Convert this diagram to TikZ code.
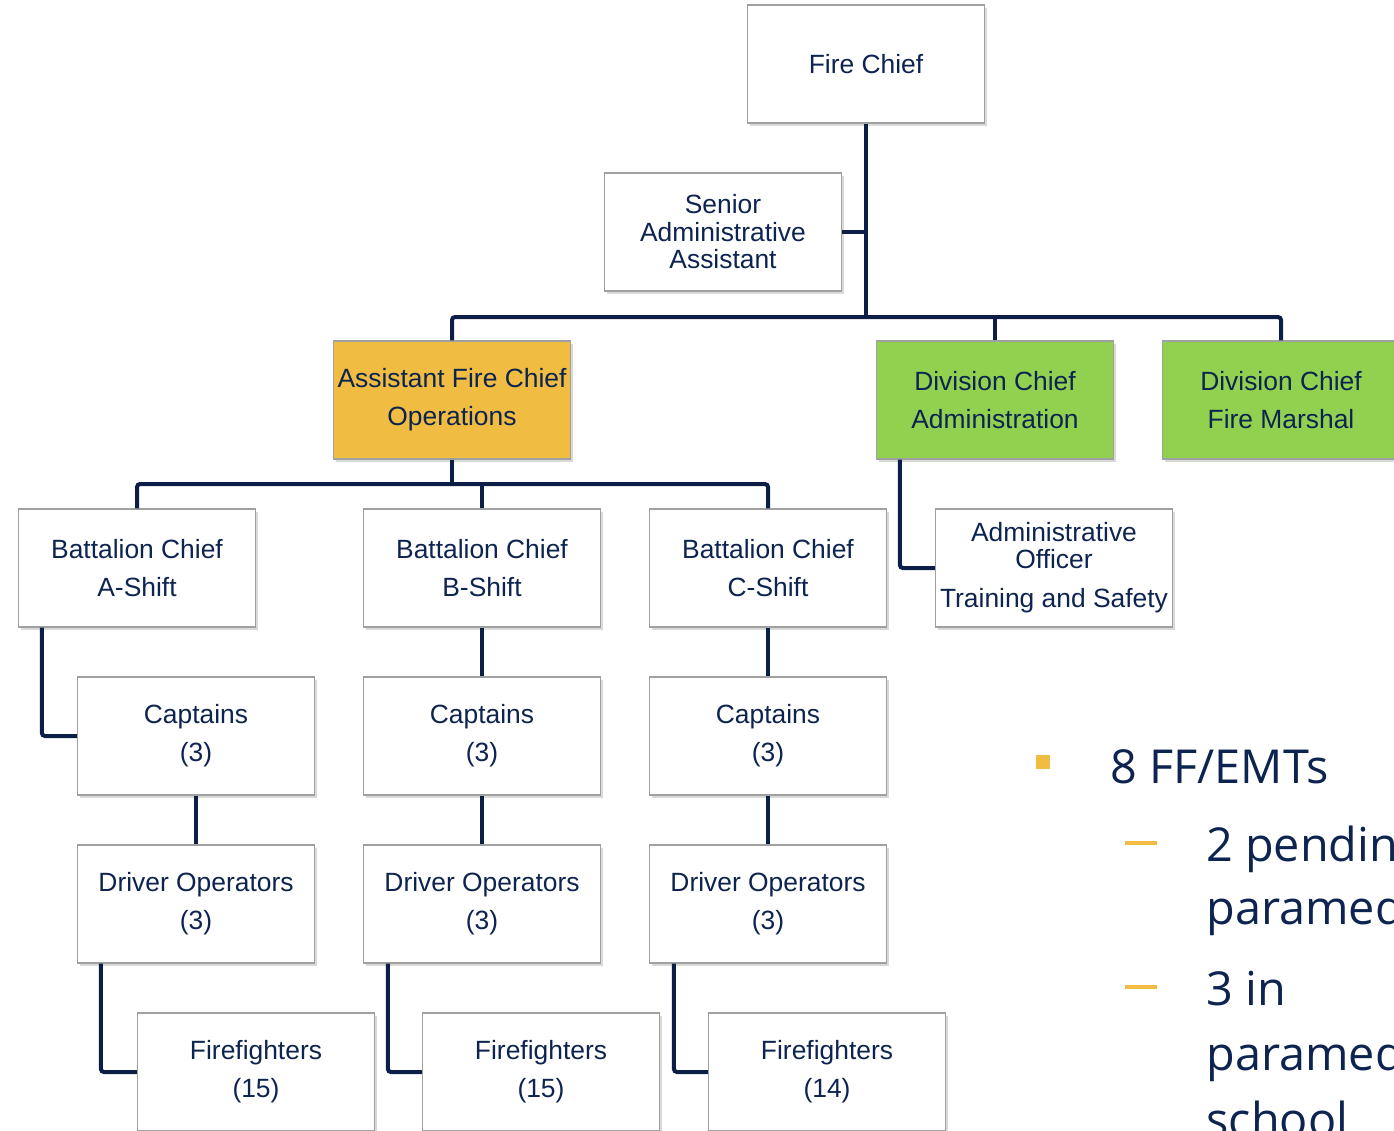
\documentclass[tikz,border=0pt]{standalone}
\usepackage{fontspec}
\setmainfont{Liberation Sans}
\newfontfamily\listfont{Open Sans}
\usetikzlibrary{shadows}
\definecolor{navy}{RGB}{13,35,80}
\definecolor{linenavy}{RGB}{12,30,69}
\definecolor{opsorange}{RGB}{240,188,66}
\definecolor{divgreen}{RGB}{146,208,80}
\definecolor{boxgray}{RGB}{160,160,160}

\begin{document}
\begin{tikzpicture}[x=0.5pt,y=-0.5pt,
    box/.style={draw=boxgray,line width=0.6pt,fill=white,minimum width=118.5pt,minimum height=59pt,
      inner sep=0pt,align=center,text=navy,font=\fontsize{13.2}{19}\selectfont,
      drop shadow={shadow xshift=1.2pt,shadow yshift=-1.5pt,opacity=0.3}},
    orgline/.style={draw=linenavy,line width=2pt,rounded corners=1.5pt},
    listtext/.style={anchor=base west,inner sep=0pt,text=navy,font=\listfont\fontsize{23.4}{31.5}\selectfont}]
    \useasboundingbox (0,0) rectangle (1394,1131);

    \node[box] (chief) at (866,64) {Fire Chief};
    \node[box,font=\fontsize{13.2}{13.75}\selectfont] (saa) at (723,232) {Senior\\Administrative\\Assistant};

    \node[box,fill=opsorange] (afc) at (452,400) {Assistant Fire Chief\\Operations};
    \node[box,fill=divgreen] (dca) at (995,400) {Division Chief\\Administration};
    \node[box,fill=divgreen] (fm) at (1281,400) {Division Chief\\Fire Marshal};

    \node[box] (bca) at (137,568) {Battalion Chief\\A-Shift};
    \node[box] (bcb) at (482,568) {Battalion Chief\\B-Shift};
    \node[box] (bcc) at (768,568) {Battalion Chief\\C-Shift};
    \node[box,font=\fontsize{13.2}{13.5}\selectfont] (ao) at (1054,568) {Administrative\\Officer\\[6pt]Training and Safety};

    \node[box] (capa) at (196,736) {Captains\\(3)};
    \node[box] (capb) at (482,736) {Captains\\(3)};
    \node[box] (capc) at (768,736) {Captains\\(3)};

    \node[box] (dra) at (196,904) {Driver Operators\\(3)};
    \node[box] (drb) at (482,904) {Driver Operators\\(3)};
    \node[box] (drc) at (768,904) {Driver Operators\\(3)};

    \node[box] (ffa) at (256,1072) {Firefighters\\(15)};
    \node[box] (ffb) at (541,1072) {Firefighters\\(15)};
    \node[box] (ffc) at (827,1072) {Firefighters\\(14)};

    % connectors
    \coordinate (topbus) at (866,317);
    \coordinate (opsbus) at (452,484);
    \draw[orgline] (chief.south) -- (topbus);
    \draw[orgline] (saa.east) -- (saa.east -| topbus);
    \draw[orgline] (afc.north) |- (topbus) -| (fm.north);
    \draw[orgline] (dca.north) -- (dca.north |- topbus);
    \draw[orgline] (afc.south) -- (opsbus);
    \draw[orgline] (bca.north) |- (opsbus) -| (bcc.north);
    \draw[orgline] (bcb.north) -- (bcb.north |- opsbus);
    \draw[orgline] (ao.west) -| ([xshift=12pt]dca.south west);
    \draw[orgline] (capa.west) -| ([xshift=12pt]bca.south west);
    \draw[orgline] (bcb.south) -- (capb.north);
    \draw[orgline] (bcc.south) -- (capc.north);
    \draw[orgline] (capa.south) -- (dra.north);
    \draw[orgline] (capb.south) -- (drb.north);
    \draw[orgline] (capc.south) -- (drc.north);
    \draw[orgline] (ffa.west) -| ([xshift=12pt]dra.south west);
    \draw[orgline] (ffb.west) -| ([xshift=12.5pt]drb.south west);
    \draw[orgline] (ffc.west) -| ([xshift=12.5pt]drc.south west);

    % list
    \node[fill=opsorange,minimum size=7pt,inner sep=0pt] (sq) at (1043,762) {};
    \node[listtext] (emt) at (1110,783) {8 FF/EMTs};
    \node[fill=opsorange,minimum width=16pt,minimum height=2pt,inner sep=0pt] (dasha) at (1141,843) {};
    \node[listtext] (pend) at (1206,861) {2 pending};
    \node[listtext] (pendb) at (1206,924) {paramedic};
    \node[fill=opsorange,minimum width=16pt,minimum height=2pt,inner sep=0pt] (dashb) at (1141,987) {};
    \node[listtext] (inpm) at (1206,1005) {3 in};
    \node[listtext] (inpmb) at (1206,1070) {paramedic};
    \node[listtext] (inpmc) at (1206,1136) {school};
\end{tikzpicture}
\end{document}
